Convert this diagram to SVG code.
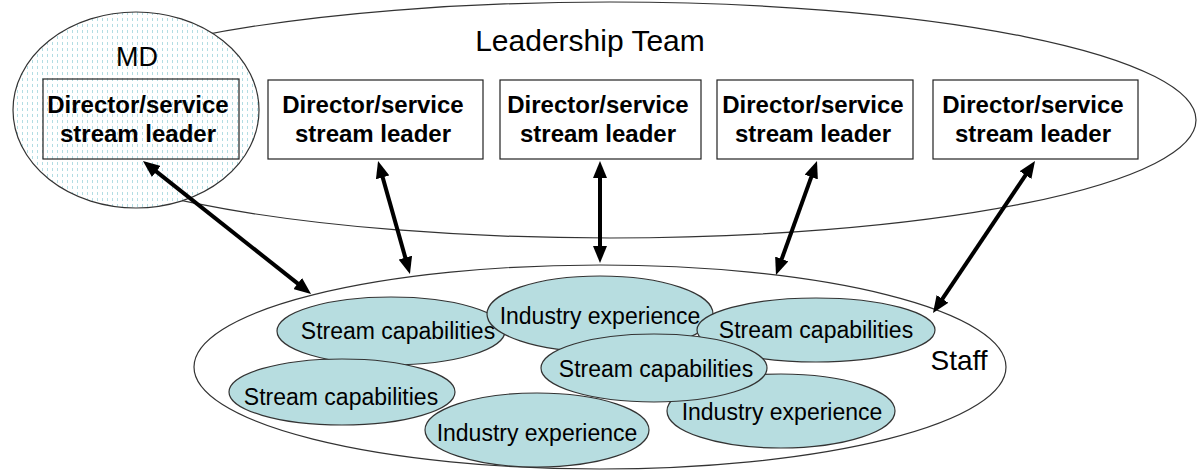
<svg xmlns="http://www.w3.org/2000/svg" width="1198" height="471" viewBox="0 0 1198 471">
<style>
.lbl{font-family:"Liberation Sans",Arial,sans-serif;fill:#000;text-anchor:middle}
.box{fill:#fff;stroke:#222;stroke-width:1.2}
.bt{font-size:24px;font-weight:bold}
.in{fill:#b7dde0;stroke:#333;stroke-width:1.2}
.it{font-size:23px}
.conn{stroke:#000;stroke-width:4;fill:none;marker-start:url(#ah);marker-end:url(#ah)}
</style>
<defs>
<pattern id="dots" width="5" height="6" patternUnits="userSpaceOnUse">
<rect width="5" height="6" fill="#fff"/>
<rect x="2" y="0" width="1" height="3" fill="#b3dde3"/>
</pattern>
<marker id="ah" viewBox="0 -7 17 14" markerWidth="17" markerHeight="14" refX="1" refY="0" markerUnits="userSpaceOnUse" orient="auto-start-reverse">
<path d="M0,-7 L17,0 L0,7 z" fill="#000"/>
</marker>
</defs>
<rect width="1198" height="471" fill="#fff"/>

<g id="leadership">
<ellipse cx="610" cy="120" rx="586" ry="118" fill="#fff" stroke="#333" stroke-width="1.2"/>
<text class="lbl" x="590" y="51" font-size="30">Leadership Team</text>
</g>

<g id="md">
<ellipse cx="136" cy="110" rx="123" ry="98" fill="url(#dots)" stroke="#333" stroke-width="1.2"/>
<text class="lbl" x="137" y="66" font-size="27">MD</text>
<rect x="43" y="79" width="196" height="80" fill="none" stroke="#222" stroke-width="1.2"/>
<text class="lbl bt" x="138" y="113">Director/service</text>
<text class="lbl bt" x="138" y="142">stream leader</text>
</g>

<g id="dir1">
<rect class="box" x="268" y="80" width="215" height="79"/>
<text class="lbl bt" x="373" y="113">Director/service</text>
<text class="lbl bt" x="373" y="142">stream leader</text>
</g>
<g id="dir2">
<rect class="box" x="500" y="80" width="201" height="79"/>
<text class="lbl bt" x="598" y="113">Director/service</text>
<text class="lbl bt" x="598" y="142">stream leader</text>
</g>
<g id="dir3">
<rect class="box" x="717" y="80" width="196" height="79"/>
<text class="lbl bt" x="813" y="113">Director/service</text>
<text class="lbl bt" x="813" y="142">stream leader</text>
</g>
<g id="dir4">
<rect class="box" x="933" y="80" width="205" height="79"/>
<text class="lbl bt" x="1033" y="113">Director/service</text>
<text class="lbl bt" x="1033" y="142">stream leader</text>
</g>

<g id="staff">
<ellipse cx="600" cy="367" rx="406" ry="102" fill="#fff" stroke="#333" stroke-width="1.2"/>
<text class="lbl" x="959" y="370" font-size="28">Staff</text>
</g>

<g id="sc1">
<ellipse class="in" cx="391" cy="331" rx="114" ry="34"/>
<text class="lbl it" x="398" y="339">Stream capabilities</text>
</g>
<g id="ie1">
<ellipse class="in" cx="600" cy="314" rx="113" ry="38"/>
<text class="lbl it" x="600" y="324">Industry experience</text>
</g>
<g id="sc2">
<ellipse class="in" cx="816" cy="330" rx="119" ry="32"/>
<text class="lbl it" x="816" y="338">Stream capabilities</text>
</g>
<g id="ie2">
<ellipse class="in" cx="781" cy="411" rx="114" ry="37"/>
<text class="lbl it" x="782" y="420">Industry experience</text>
</g>
<g id="sc3">
<ellipse class="in" cx="654" cy="368" rx="113" ry="34"/>
<text class="lbl it" x="656" y="377">Stream capabilities</text>
</g>
<g id="sc4">
<ellipse class="in" cx="342" cy="392" rx="113" ry="33"/>
<text class="lbl it" x="341" y="405">Stream capabilities</text>
</g>
<g id="ie3">
<ellipse class="in" cx="537" cy="430" rx="112" ry="37"/>
<text class="lbl it" x="537" y="441">Industry experience</text>
</g>

<g id="connectors">
<line class="conn" x1="155.5" y1="170.9" x2="298.5" y2="284.1"/>
<line class="conn" x1="382.4" y1="176.4" x2="405.6" y2="258.6"/>
<line class="conn" x1="600" y1="177" x2="600" y2="247"/>
<line class="conn" x1="811.6" y1="176.1" x2="781.4" y2="259.9"/>
<line class="conn" x1="1026.1" y1="174.3" x2="941.9" y2="299.7"/>
</g>
</svg>
